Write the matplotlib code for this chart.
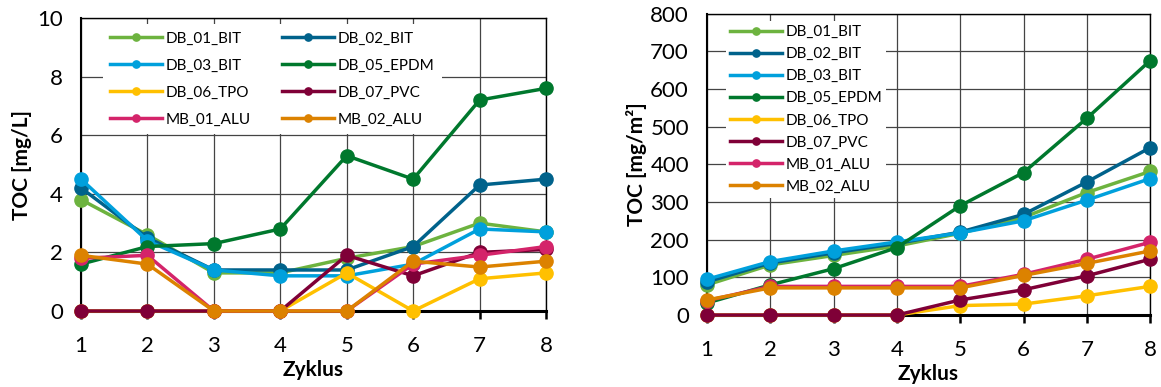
import matplotlib
matplotlib.use("Agg")
import matplotlib.pyplot as plt

plt.rcParams['font.family'] = ['Lato', 'DejaVu Sans']
plt.rcParams['font.size'] = 13

cycles = [1, 2, 3, 4, 5, 6, 7, 8]
series_names = ['DB_01_BIT', 'DB_02_BIT', 'DB_03_BIT', 'DB_05_EPDM',
                'DB_06_TPO', 'DB_07_PVC', 'MB_01_ALU', 'MB_02_ALU']
series_colors = ['#6DB33F', '#00628B', '#00A0DC', '#00782D',
                 '#FFC000', '#7F0037', '#D4246A', '#DC8200']

# TOC concentration [mg/L]
conc_db01 = [3.8, 2.6, 1.3, 1.3, 1.8, 2.2, 3.0, 2.7]
conc_db02 = [4.2, 2.5, 1.4, 1.4, 1.4, 2.2, 4.3, 4.5]
conc_db03 = [4.5, 2.4, 1.4, 1.2, 1.2, 1.6, 2.8, 2.7]
conc_db05 = [1.6, 2.2, 2.3, 2.8, 5.3, 4.5, 7.2, 7.6]
conc_db06 = [0.0, 0.0, 0.0, 0.0, 1.3, 0.0, 1.1, 1.3]
conc_db07 = [0.0, 0.0, 0.0, 0.0, 1.9, 1.2, 2.0, 2.1]
conc_mb01 = [1.8, 1.9, 0.0, 0.0, 0.0, 1.6, 1.9, 2.2]
conc_mb02 = [1.9, 1.6, 0.0, 0.0, 0.0, 1.7, 1.5, 1.7]

# cumulative TOC load [mg/m2]
load_db01 = [80, 133, 158, 183, 217, 259, 325, 381]
load_db02 = [88, 138, 165, 190, 220, 267, 353, 444]
load_db03 = [95, 142, 170, 194, 218, 250, 305, 362]
load_db05 = [32, 80, 123, 179, 290, 378, 522, 675]
load_db06 = [0, 0, 0, 0, 25, 29, 51, 76]
load_db07 = [0, 0, 0, 0, 40, 67, 104, 148]
load_mb01 = [38, 76, 76, 76, 76, 108, 148, 193]
load_mb02 = [40, 72, 72, 72, 72, 105, 137, 170]

conc_all = [conc_db01, conc_db02, conc_db03, conc_db05,
            conc_db06, conc_db07, conc_mb01, conc_mb02]
load_all = [load_db01, load_db02, load_db03, load_db05,
            load_db06, load_db07, load_mb01, load_mb02]


def style_axes(ax, ymax, ystep):
    ax.set_xlim(1, 8)
    ax.set_ylim(0, ymax)
    ax.set_xticks(cycles)
    ax.set_yticks(range(0, ymax + 1, ystep))
    ax.grid(True, color='#444444', linewidth=0.9, zorder=0)
    ax.set_axisbelow(True)
    for s in ax.spines.values():
        s.set_linewidth(1.0)
        s.set_color('black')
    ax.spines['bottom'].set_linewidth(2.2)
    ax.spines['left'].set_linewidth(1.5)
    ax.tick_params(axis='x', direction='out', length=6, width=1.8, pad=12, labelsize=16)
    ax.tick_params(axis='y', length=0, pad=13, labelsize=16)
    ax.set_xlabel('Zyklus', fontweight='bold', fontsize=15, labelpad=3)


def draw_series(ax, values_list):
    for name, color, vals in zip(series_names, series_colors, values_list):
        ax.plot(cycles, vals, color=color, linewidth=2.5, marker='o',
                markersize=9.5, label=name, clip_on=False, zorder=3)


fig = plt.figure(figsize=(11.61, 3.87), dpi=100)

ax1 = fig.add_axes([0.0698, 0.1964, 0.4005, 0.757])
draw_series(ax1, conc_all)
style_axes(ax1, 10, 2)
ax1.set_ylabel('TOC [mg/L]', fontweight='bold', fontsize=15, labelpad=4)
# Excel fills the legend row by row
h, l = ax1.get_legend_handles_labels()
order = [0, 2, 4, 6, 1, 3, 5, 7]
leg1 = ax1.legend([h[i] for i in order], [l[i] for i in order], ncol=2,
                  loc='upper left', bbox_to_anchor=(0.03, 1.006),
                  fontsize=11, frameon=True, facecolor='white', edgecolor='none',
                  framealpha=1, fancybox=False, handlelength=3.4, markerscale=0.55,
                  labelspacing=0.85, columnspacing=2.0, handletextpad=0.25,
                  borderpad=0.5)
leg1.set_zorder(5)

ax2 = fig.add_axes([0.609, 0.186, 0.3816, 0.779])
draw_series(ax2, load_all)
style_axes(ax2, 800, 100)
ax2.set_ylabel('TOC [mg/m²]', fontweight='bold', fontsize=15, labelpad=2)
leg2 = ax2.legend(ncol=1, loc='upper left', bbox_to_anchor=(0.025, 1.0),
                  fontsize=11, frameon=True, facecolor='white', edgecolor='none',
                  framealpha=1, fancybox=False, handlelength=3.4, markerscale=0.55,
                  labelspacing=0.53, handletextpad=0.25, borderpad=0.25)
leg2.set_zorder(5)

fig.savefig('out.png', dpi=100)
